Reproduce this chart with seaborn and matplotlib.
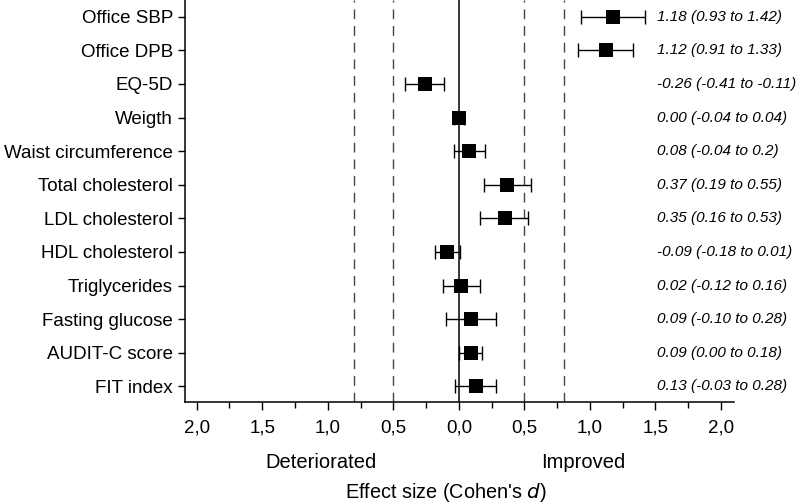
import numpy as np
import pandas as pd
import matplotlib
matplotlib.use("Agg")
import matplotlib.pyplot as plt
import matplotlib.transforms as mtransforms
from matplotlib.ticker import MultipleLocator, FixedLocator, FuncFormatter
import seaborn as sns

outcomes = ["Office SBP", "Office DPB", "EQ-5D", "Weigth", "Waist circumference",
            "Total cholesterol", "LDL cholesterol", "HDL cholesterol", "Triglycerides",
            "Fasting glucose", "AUDIT-C score", "FIT index"]
effect = [1.18, 1.12, -0.26, 0.00, 0.08, 0.37, 0.35, -0.09, 0.02, 0.09, 0.09, 0.13]
ci_low = [0.93, 0.91, -0.41, -0.04, -0.04, 0.19, 0.16, -0.18, -0.12, -0.10, 0.00, -0.03]
ci_high = [1.42, 1.33, -0.11, 0.04, 0.2, 0.55, 0.53, 0.01, 0.16, 0.28, 0.18, 0.28]
ci_text = ["1.18 (0.93 to 1.42)", "1.12 (0.91 to 1.33)", "-0.26 (-0.41 to -0.11)",
           "0.00 (-0.04 to 0.04)", "0.08 (-0.04 to 0.2)", "0.37 (0.19 to 0.55)",
           "0.35 (0.16 to 0.53)", "-0.09 (-0.18 to 0.01)", "0.02 (-0.12 to 0.16)",
           "0.09 (-0.10 to 0.28)", "0.09 (0.00 to 0.18)", "0.13 (-0.03 to 0.28)"]
thresholds = [-0.8, -0.5, 0.5, 0.8]

df = pd.DataFrame({"outcome": outcomes, "d": effect, "lo": ci_low, "hi": ci_high})
df["pos"] = np.arange(len(df))

sns.set_style("ticks")
plt.rcParams["font.family"] = ["Liberation Sans", "DejaVu Sans"]
for key in ["text.color", "axes.labelcolor", "xtick.color", "ytick.color", "axes.edgecolor"]:
    plt.rcParams[key] = "black"

fig, ax = plt.subplots(figsize=(7.97, 5.03), dpi=100)
fig.subplots_adjust(left=0.232, right=0.921, bottom=0.2, top=1.0)

# effect size thresholds (medium / large)
for t in thresholds:
    ax.axvline(t, color="#444444", lw=1.0, ls=(0, (7, 5)), zorder=1)
ax.axvline(0, color="black", lw=1.1, zorder=1)

ax.errorbar(df["d"], df["pos"], xerr=[df["d"] - df["lo"], df["hi"] - df["d"]],
            fmt="none", ecolor="black", elinewidth=1.0, capsize=5, capthick=1.0, zorder=2)
sns.scatterplot(data=df, x="d", y="pos", marker="s", s=90, color="black",
                edgecolor="black", linewidth=0, ax=ax, zorder=3)

for y, txt in zip(df["pos"], ci_text):
    ax.text(1.51, y, txt, style="italic", fontsize=11, va="center", ha="left")

ax.set_xlim(-2.09, 2.1)
ax.set_ylim(len(df) - 0.52, -0.5)
ax.set_yticks(df["pos"])
ax.set_yticklabels(outcomes, fontsize=13.5)
ax.xaxis.set_major_locator(FixedLocator([-2, -1.5, -1, -0.5, 0, 0.5, 1, 1.5, 2]))
ax.xaxis.set_minor_locator(MultipleLocator(0.25))
ax.xaxis.set_major_formatter(FuncFormatter(lambda v, p: f"{abs(v):.1f}".replace(".", ",")))
ax.tick_params(axis="x", which="major", length=6, width=1, labelsize=13.5, pad=6)
ax.tick_params(axis="x", which="minor", length=4, width=1)
ax.tick_params(axis="y", length=5, width=1)

for s in ["top", "right"]:
    ax.spines[s].set_visible(False)
for s in ["left", "bottom"]:
    ax.spines[s].set_linewidth(1.1)

ax.set_ylabel("")
below = ax.get_xaxis_transform() + mtransforms.ScaledTranslation(0, -60 / 100, fig.dpi_scale_trans)
ax.text(-1.05, 0.0, "Deteriorated", fontsize=14.5, ha="center", va="center", transform=below)
ax.text(0.95, 0.0, "Improved", fontsize=14.5, ha="center", va="center", transform=below)
ax.set_xlabel("Effect size (Cohen's $\\it{d}$)", fontsize=14.3)
ax.xaxis.set_label_coords(0.475, -0.196)

fig.savefig("out.png", dpi=100)
